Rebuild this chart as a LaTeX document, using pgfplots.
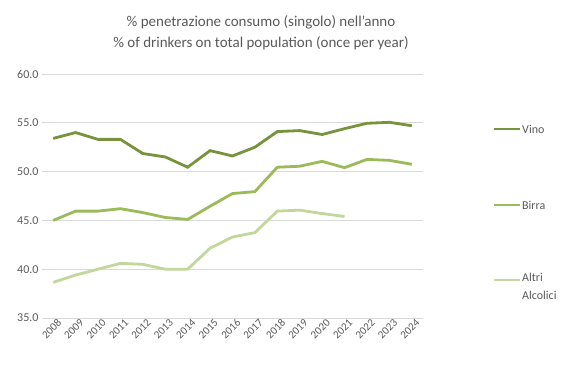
\documentclass[border=0pt]{standalone}
\usepackage{pgfplots}
\pgfplotsset{compat=1.18}
\usepackage{fontspec}
\setmainfont{Carlito}
\definecolor{vino}{HTML}{77933C}
\definecolor{birra}{HTML}{9BBB59}
\definecolor{altri}{HTML}{C3D69B}
\definecolor{txt}{HTML}{595959}
\definecolor{gridc}{HTML}{D9D9D9}
\begin{document}
\begin{tikzpicture}
\begin{axis}[
  scale only axis, width=381bp, height=244bp,
  at={(0,0)}, anchor=south west,
  xmin=-0.5, xmax=16.5, ymin=35, ymax=60,
  ytick={35,40,45,50,55,60},
  y tick label style={/pgf/number format/fixed, /pgf/number format/fixed zerofill, /pgf/number format/precision=1, font=\fontsize{12bp}{14bp}\selectfont, text=txt},
  /pgf/number format/assume math mode=true,
  xtick={0,...,16},
  xticklabels={2008,2009,2010,2011,2012,2013,2014,2015,2016,2017,2018,2019,2020,2021,2022,2023,2024},
  x tick label style={rotate=45, anchor=north east, font=\fontsize{11bp}{12bp}\selectfont, text=txt, inner sep=0.5bp, yshift=-2bp, xshift=3bp},
  ymajorgrids, grid style={gridc, line width=0.75bp},
  axis line style={draw=none},
  major tick length=0pt,
  clip=false,
]
\addplot[vino, line width=2.8bp] coordinates {(0,53.4)(1,54.0)(2,53.3)(3,53.3)(4,51.85)(5,51.5)(6,50.45)(7,52.15)(8,51.6)(9,52.5)(10,54.1)(11,54.2)(12,53.8)(13,54.4)(14,54.95)(15,55.05)(16,54.7)};
\addplot[birra, line width=2.8bp] coordinates {(0,45.0)(1,45.95)(2,45.95)(3,46.2)(4,45.8)(5,45.3)(6,45.1)(7,46.45)(8,47.75)(9,47.95)(10,50.45)(11,50.55)(12,51.05)(13,50.4)(14,51.25)(15,51.15)(16,50.75)};
\addplot[altri, line width=2.8bp] coordinates {(0,38.65)(1,39.4)(2,40.0)(3,40.6)(4,40.5)(5,40.0)(6,40.0)(7,42.15)(8,43.3)(9,43.75)(10,45.95)(11,46.05)(12,45.7)(13,45.4)};
\end{axis}
\node[text=txt, font=\fontsize{15bp}{18bp}\selectfont] at (219bp,296bp) {\% penetrazione consumo (singolo) nell'anno};
\node[text=txt, font=\fontsize{15bp}{18bp}\selectfont] at (219bp,275bp) {\% of drinkers on total population (once per year)};
\draw[vino, line width=2.8bp] (452bp,189bp) -- (478bp,189bp);
\node[anchor=west, text=txt, font=\fontsize{12bp}{14bp}\selectfont, inner sep=1bp] at (479bp,189bp) {Vino};
\draw[birra, line width=2.8bp] (452bp,113bp) -- (478bp,113bp);
\node[anchor=west, text=txt, font=\fontsize{12bp}{14bp}\selectfont, inner sep=1bp] at (479bp,113bp) {Birra};
\draw[altri, line width=2.8bp] (452bp,38bp) -- (478bp,38bp);
\node[anchor=north west, align=left, text=txt, font=\fontsize{12bp}{18bp}\selectfont, inner sep=1bp] at (479bp,46bp) {Altri\\Alcolici};
\pgfresetboundingbox
\path[use as bounding box] (-42bp,-57bp) rectangle (540bp,318bp);
\end{tikzpicture}
\end{document}
